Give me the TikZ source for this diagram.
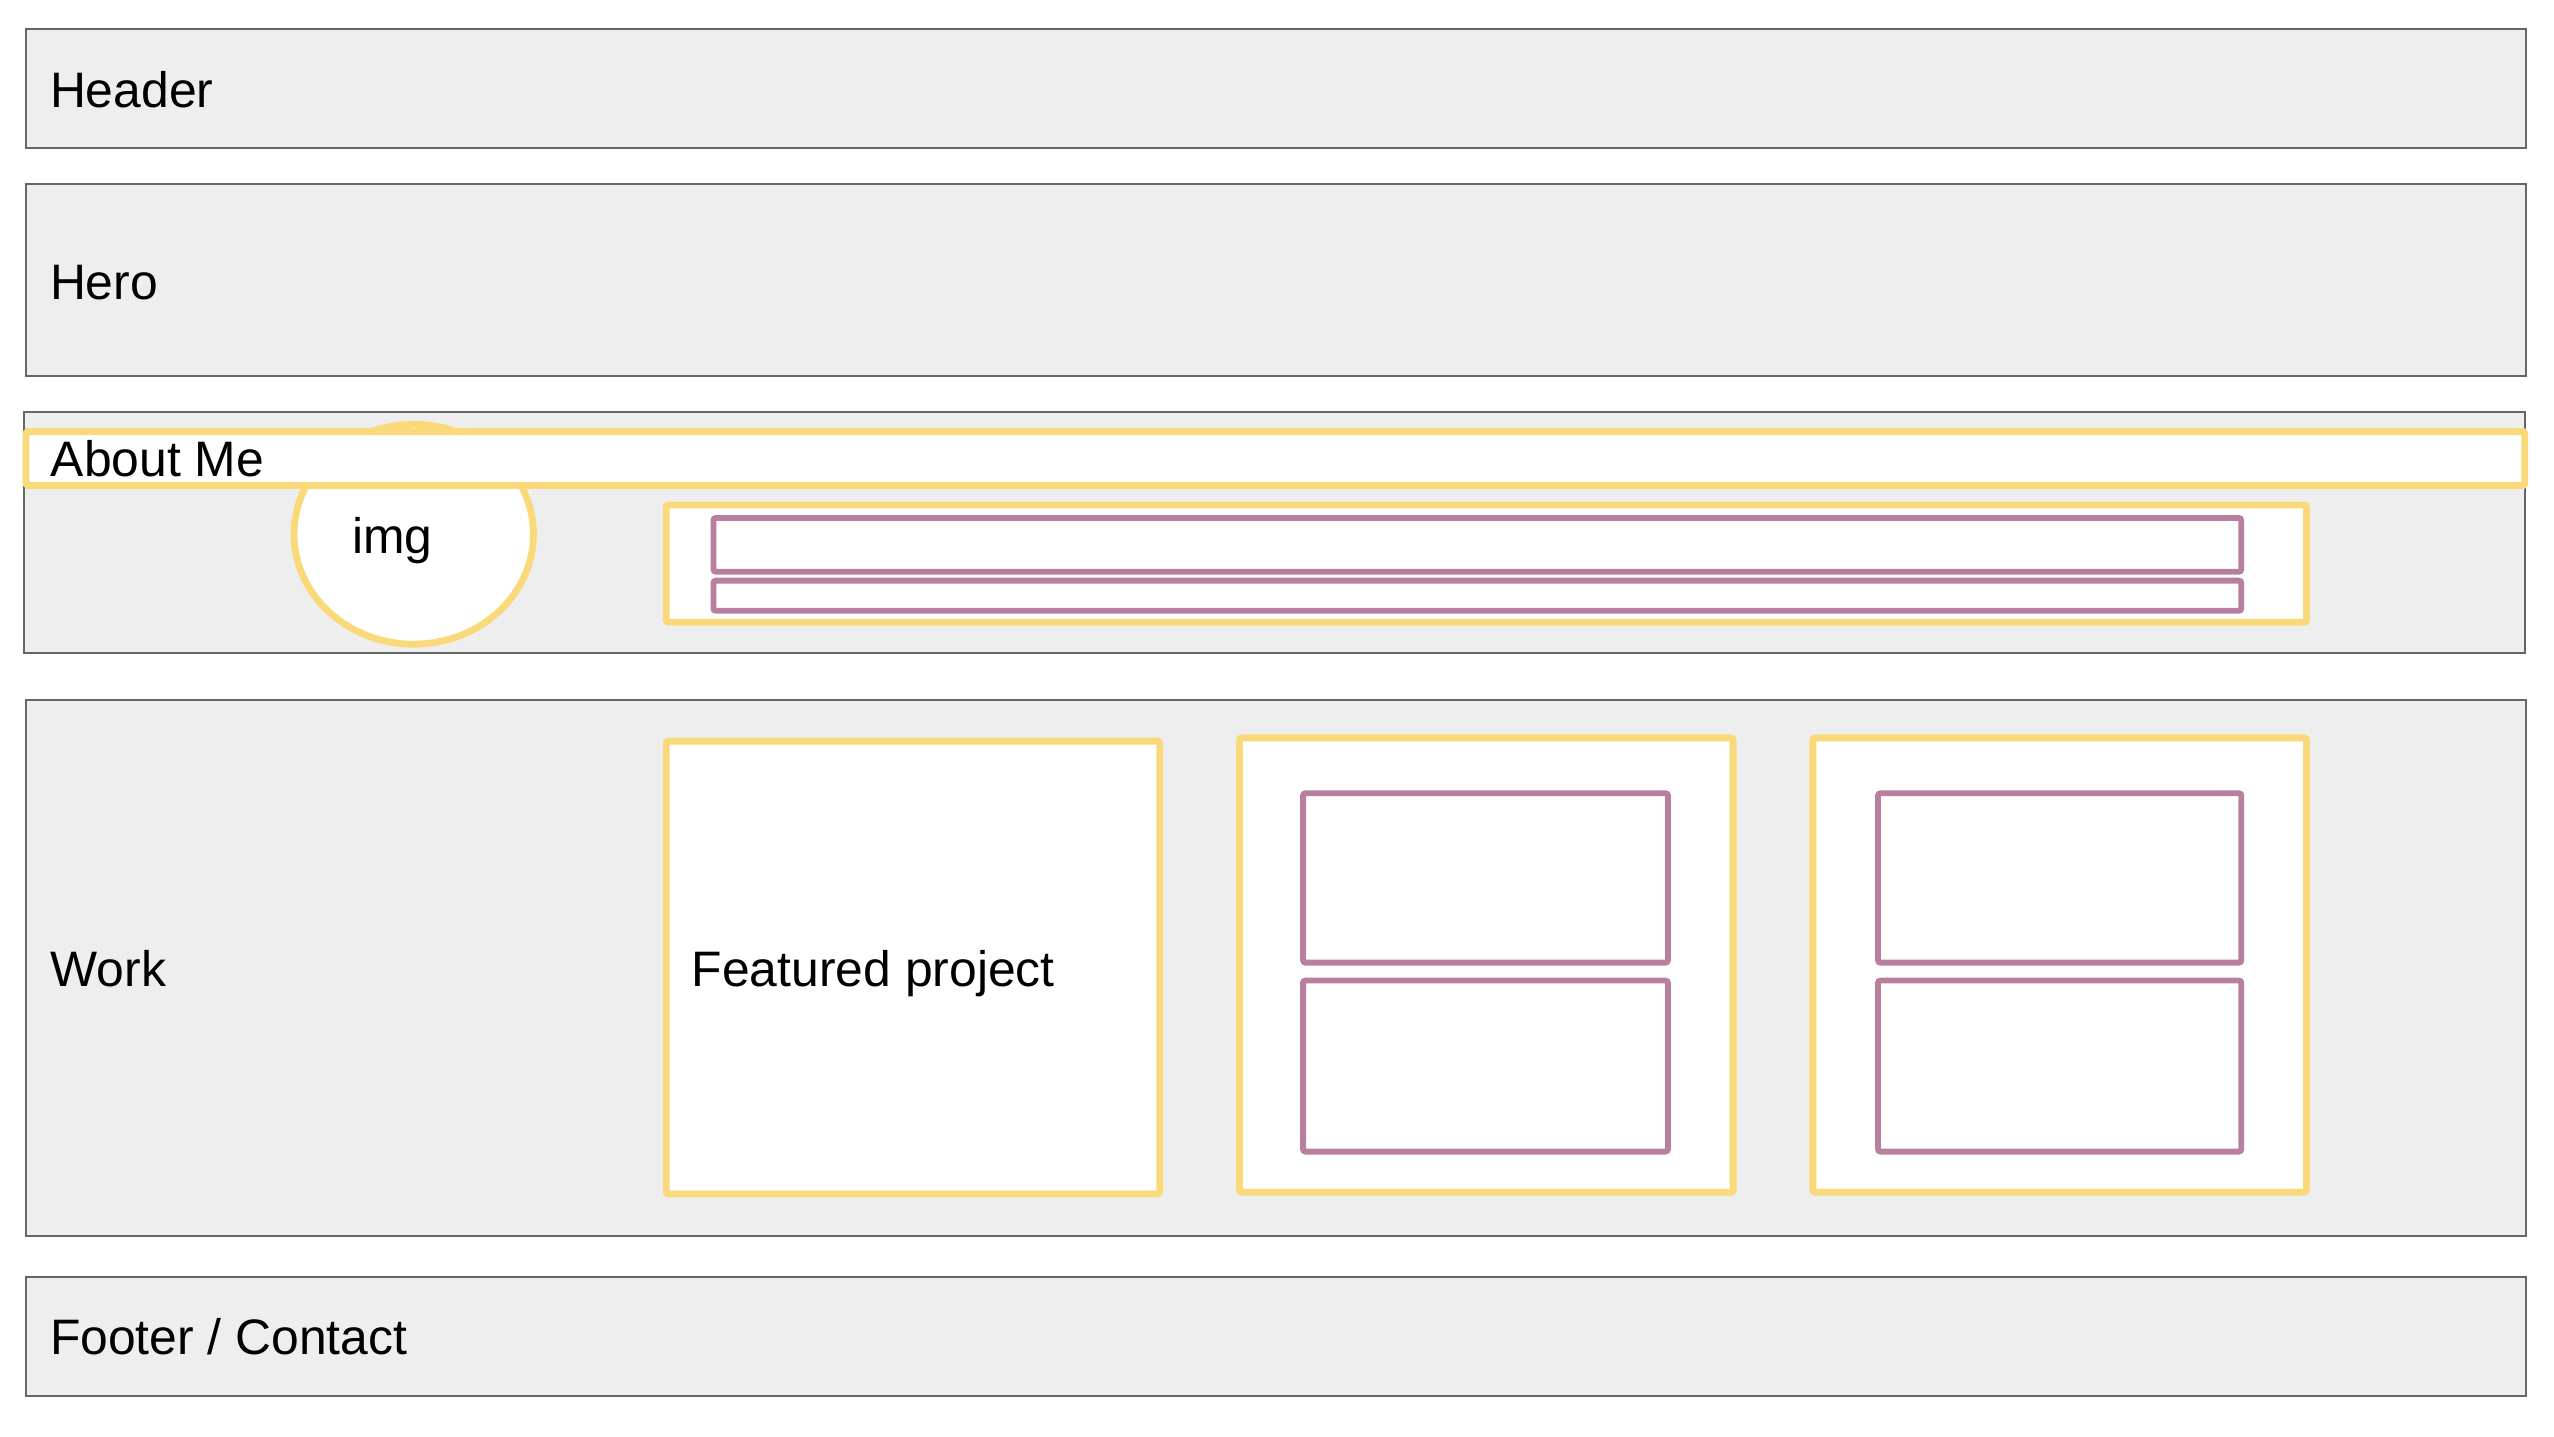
\documentclass[tikz,border=0pt]{standalone}
\usepackage{fontspec}
\setmainfont{Liberation Sans}
\usetikzlibrary{shapes.geometric}
\definecolor{secfill}{HTML}{EEEEEE}
\definecolor{secline}{HTML}{666666}
\definecolor{ylw}{HTML}{FAD97B}
\definecolor{plum}{HTML}{B97F9F}
\begin{document}
\begin{tikzpicture}[x=1pt,y=-1pt,
  section/.style={draw=secline,fill=secfill,line width=1.3pt},
  card/.style={draw=ylw,fill=white,line width=4.2pt,rounded corners=1.5pt},
  slot/.style={draw=plum,fill=white,line width=3.6pt,rounded corners=1.5pt},
  lbl/.style={anchor=base west,inner sep=0pt,font=\fontsize{30.6}{36}\selectfont}]
\useasboundingbox (0,0) rectangle (1568,882);

% page sections
\draw[section] (16,18) rectangle (1551,91);
\draw[section] (16,113) rectangle (1551,231);
\draw[section] (15,253) rectangle (1550,401);
\draw[section] (16,430) rectangle (1551,759);
\draw[section] (16,784) rectangle (1551,857);

% about me: avatar behind the title bar
\node[ellipse,draw=ylw,fill=white,line width=4.2pt,minimum width=147pt,minimum height=135pt,inner sep=0pt] (avatar) at (254,328) {};
\draw[card,rounded corners=1pt] (16,265) rectangle (1550,298);
\node[lbl] (imgtxt) at (216,340) {img};

% about me: text block
\draw[card] (409,310) rectangle (1416,382);
\draw[slot] (438,318) rectangle (1376,351);
\draw[slot] (438,356.5) rectangle (1376,375);

% work: featured project and two cards
\draw[card] (409,455) rectangle (712,733);
\draw[card] (761,453) rectangle (1064,732);
\draw[slot] (800,487) rectangle (1024,591);
\draw[slot] (800,602) rectangle (1024,707);
\draw[card] (1113,453) rectangle (1416,732);
\draw[slot] (1153,487) rectangle (1376,591);
\draw[slot] (1153,602) rectangle (1376,707);

% labels
\node[lbl] (header) at (30.5,65.8) {Header};
\node[lbl] (hero) at (30.5,183.6) {Hero};
\node[lbl] (about) at (31,292.8) {About Me};
\node[lbl] (work) at (31,605.6) {Work};
\node[lbl] (featured) at (424.5,605.6) {Featured project};
\node[lbl] (footer) at (30.5,831.6) {Footer / Contact};
\end{tikzpicture}
\end{document}
